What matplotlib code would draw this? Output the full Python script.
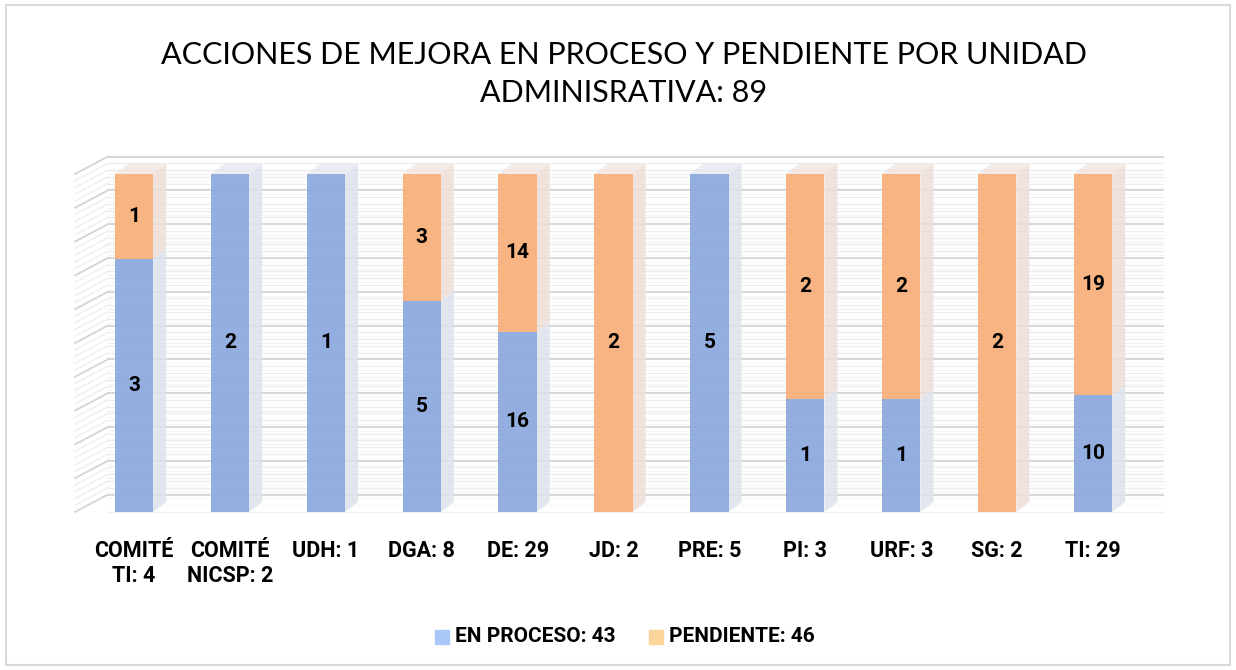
import numpy as np
import matplotlib.pyplot as plt
from matplotlib.patches import Polygon, Rectangle

plt.rcParams['font.family'] = ['Lato', 'DejaVu Sans']
BOLD = ['Roboto', 'DejaVu Sans']

unidades = ['COMITÉ\nTI: 4', 'COMITÉ\nNICSP: 2', 'UDH: 1', 'DGA: 8', 'DE: 29', 'JD: 2',
            'PRE: 5', 'PI: 3', 'URF: 3', 'SG: 2', 'TI: 29']
en_proceso = [3, 2, 1, 5, 16, 0, 5, 1, 1, 0, 10]
pendiente = [1, 0, 0, 3, 14, 2, 0, 2, 2, 2, 19]
leyenda = ['EN PROCESO: 43', 'PENDIENTE: 46']
titulo = 'ACCIONES DE MEJORA EN PROCESO Y PENDIENTE POR UNIDAD\nADMINISRATIVA: 89'

blue = '#8eaadf'
orange = '#f9b07c'
blue_side = '#dde2ec'
orange_side = '#eedfd8'

proc = np.array(en_proceso, dtype=float)
pend = np.array(pendiente, dtype=float)
tot = proc + pend
p_proc = proc / tot
p_pend = pend / tot
x = np.arange(len(unidades))

fig = plt.figure(figsize=(12.36, 6.70), dpi=100)
# pixel layout of the plot box
px_l, px_r, px_t, px_b = 60, 1180, 140, 530
x0px, dxpx = 134, 95.9
y0px, y1px = 512, 174
ax = fig.add_axes([px_l / 1236, 1 - px_b / 670, (px_r - px_l) / 1236, (px_b - px_t) / 670])
ax.set_xlim((px_l - x0px) / dxpx, (px_r - x0px) / dxpx)
hpx = y0px - y1px
ax.set_ylim(-(px_b - y0px) / hpx, 1 + (y1px - px_t) / hpx)
ax.axis('off')

# 3D-like walls
wall_dy = 17.5 / hpx
wall_x0 = (75 - x0px) / dxpx
wall_x1 = (108 - x0px) / dxpx
wall_x2 = (1163 - x0px) / dxpx
for v in np.arange(0, 1.001, 0.02):
    major = abs(v * 10 - round(v * 10)) < 1e-6
    c = '#d4d4d4' if major else '#ececec'
    lw = 1.3 if major else 0.9
    ax.plot([wall_x1, wall_x2], [v + wall_dy, v + wall_dy], color=c, lw=lw, zorder=1)
    ax.plot([wall_x0, wall_x1], [v, v + wall_dy], color=c, lw=lw, zorder=1)
    ax.plot([wall_x1, wall_x2], [v, v], color='#f0f0f0' if major else '#f7f7f7', lw=0.8, zorder=1)

# bars
w = 0.40
ddx = 13 / dxpx
ddy = 10 / hpx
ax.bar(x, p_proc, w, color=blue, alpha=0.95, zorder=3, label=leyenda[0])
ax.bar(x, p_pend, w, bottom=p_proc, color=orange, alpha=0.95, zorder=3, label=leyenda[1])
for i in range(len(x)):
    xr = x[i] + w / 2
    segs = [(0, p_proc[i], blue_side), (p_proc[i], 1.0, orange_side)]
    for b, t, c in segs:
        if t - b <= 0:
            continue
        ax.add_patch(Polygon([(xr, b), (xr + ddx, b + ddy), (xr + ddx, t + ddy), (xr, t)],
                             closed=True, color=c, alpha=0.85, zorder=2, lw=0))
    top_c = orange_side if p_pend[i] > 0 else blue_side
    ax.add_patch(Polygon([(x[i] - w / 2, 1), (x[i] - w / 2 + ddx, 1 + ddy), (xr + ddx, 1 + ddy), (xr, 1)],
                         closed=True, color=top_c, alpha=0.6, zorder=2, lw=0))

# data labels
for i in range(len(x)):
    if proc[i] > 0:
        ax.text(x[i], p_proc[i] / 2, str(en_proceso[i]), ha='center', va='center',
                fontsize=15, fontweight='bold', family=BOLD, zorder=5)
    if pend[i] > 0:
        ax.text(x[i], p_proc[i] + p_pend[i] / 2, str(pendiente[i]), ha='center', va='center',
                fontsize=15, fontweight='bold', family=BOLD, zorder=5)

# category labels
for i, lab in enumerate(unidades):
    ax.text(x[i], -(540 - y0px) / hpx, lab, ha='center', va='top', fontsize=15.5,
            fontweight='bold', family=BOLD, linespacing=1.2)

fig.text(624 / 1236, 1 - 74 / 670, titulo, ha='center', va='center', fontsize=22,
         linespacing=1.45)

# legend
leg_y = 1 - 637 / 670
for xx, col, txt in [(435, '#a9c8f7', leyenda[0]), (649, '#fbd49b', leyenda[1])]:
    fig.patches.append(Rectangle((xx / 1236, leg_y - 7 / 670), 14 / 1236, 14 / 670,
                                 transform=fig.transFigure, color=col))
    fig.text((xx + 20) / 1236, leg_y, txt, ha='left', va='center', fontsize=15,
             fontweight='bold', family=BOLD)

fig.patches.append(Rectangle((6 / 1236, 5 / 670), 1224 / 1236, 660 / 670, transform=fig.transFigure,
                             fill=False, ec='#d9d9d9', lw=1.5))

plt.savefig('out.png', dpi=100)
